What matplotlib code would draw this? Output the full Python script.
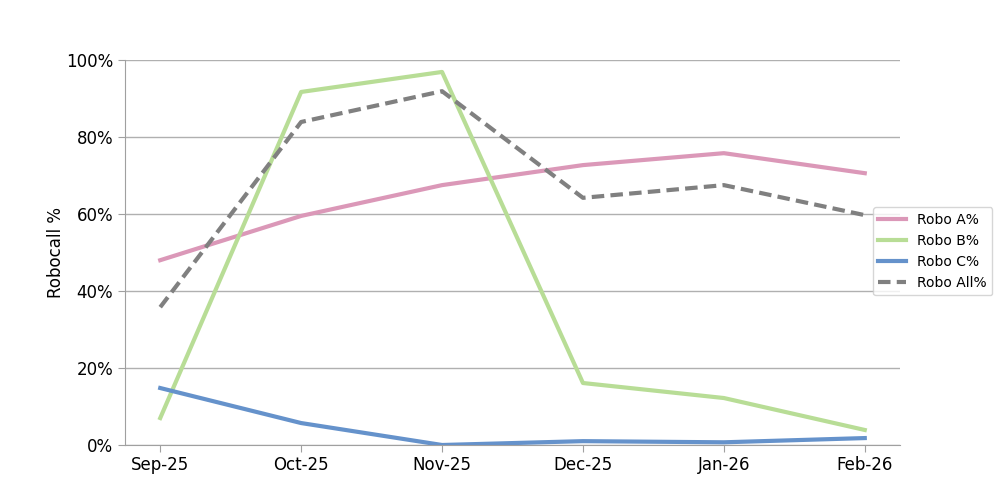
import matplotlib
matplotlib.use("Agg")
import matplotlib.pyplot as plt
from matplotlib.ticker import PercentFormatter

months = ["Sep-25", "Oct-25", "Nov-25", "Dec-25", "Jan-26", "Feb-26"]
robo_a = [0.480, 0.595, 0.675, 0.727, 0.758, 0.706]
robo_b = [0.070, 0.917, 0.969, 0.161, 0.122, 0.039]
robo_c = [0.148, 0.057, 0.000, 0.010, 0.007, 0.018]
robo_all = [0.358, 0.839, 0.919, 0.642, 0.675, 0.597]

fig = plt.figure(figsize=(10, 5), dpi=100)
ax = fig.add_axes([0.125, 0.11, 0.775, 0.77])
x = list(range(len(months)))
ax.plot(x, robo_a, color="#db98b8", lw=3, label="Robo A%")
ax.plot(x, robo_b, color="#b8dd96", lw=3, label="Robo B%")
ax.plot(x, robo_c, color="#6592cb", lw=3, label="Robo C%")
ax.plot(x, robo_all, color="#808080", lw=3, ls=(0, (3, 1.5)), label="Robo All%")

ax.set_xlim(-0.25, 5.25)
ax.set_ylim(0, 1)
ax.set_xticks(x)
ax.set_xticklabels(months, fontsize=12)
ax.set_yticks([0, 0.2, 0.4, 0.6, 0.8, 1.0])
ax.yaxis.set_major_formatter(PercentFormatter(1.0, decimals=0))
ax.tick_params(axis="y", labelsize=12, length=5, color="#a0a0a0")
ax.tick_params(axis="x", length=5, color="#a0a0a0", pad=3)
ax.grid(axis="y", color="#b0b0b0", lw=1)
ax.set_axisbelow(True)
for s in ["top", "right"]:
    ax.spines[s].set_visible(False)
for s in ["left", "bottom"]:
    ax.spines[s].set_color("#a0a0a0")
ax.set_ylabel("Robocall %", fontsize=12, labelpad=1)
ax.legend(loc="center left", bbox_to_anchor=(0.956, 0.503), fontsize=10, frameon=True)
fig.savefig("out.png", dpi=100)
